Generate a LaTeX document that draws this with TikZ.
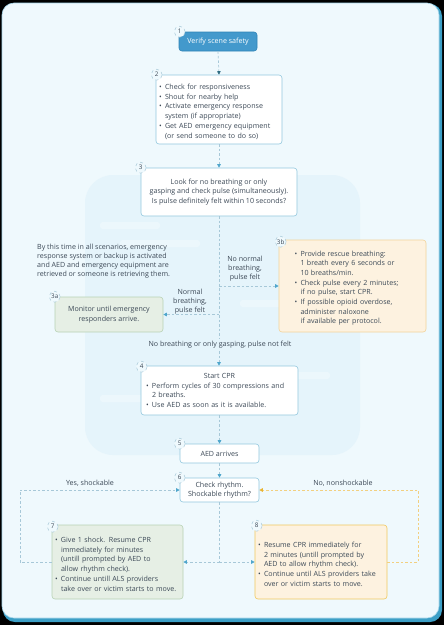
\documentclass[tikz,border=0pt]{standalone}
\usepackage{fontspec}
\setmainfont{Open Sans}
\usetikzlibrary{arrows.meta,calc}
\definecolor{pagebg}{HTML}{EFF9FD}
\definecolor{framebd}{HTML}{A6D6EA}
\definecolor{frameshadow}{HTML}{3C9FC6}
\definecolor{deco}{HTML}{E5F4FB}
\definecolor{nodebd}{HTML}{93C8DE}
\definecolor{bluefill}{HTML}{4399CC}
\definecolor{bluebd}{HTML}{2F84B6}
\definecolor{greenfill}{HTML}{E6EFE5}
\definecolor{greenbd}{HTML}{B8D2B4}
\definecolor{orangefill}{HTML}{FDF2E0}
\definecolor{orangebd}{HTML}{F2D39A}
\definecolor{yellowbd}{HTML}{F1C85E}
\definecolor{txt}{HTML}{3B4856}
\definecolor{lin}{HTML}{A7C8D8}
\definecolor{tip}{HTML}{4FA6CC}
\definecolor{tipdark}{HTML}{2E6C82}
\definecolor{olin}{HTML}{F2D080}
\definecolor{otip}{HTML}{E9B431}
\newcommand{\bit}[1]{\par\hangindent=6pt\hangafter=1\noindent\makebox[6pt][l]{\textbullet}#1}
\tikzset{
  box/.style={draw=nodebd, line width=0.6pt, fill=white, rounded corners=3pt, inner sep=0pt,
    font=\fontsize{7.1}{9.7}\selectfont, text=txt, align=center},
  greenbox/.style={box, draw=greenbd, fill=greenfill},
  orangebox/.style={box, draw=orangebd, fill=orangefill},
  badge/.style={circle, draw=lin, dashed, line width=0.5pt, fill=pagebg, minimum size=11pt, inner sep=0pt,
    font=\fontsize{6.3}{7}\selectfont, text=txt},
  conn/.style={draw=lin, dashed, dash pattern=on 2.5pt off 2pt, line width=0.7pt},
  arr/.style={conn, -{Triangle[length=3.5pt,width=3.5pt,color=tip,fill=tip]}},
  darr/.style={conn, -{Triangle[length=3.5pt,width=3.5pt,color=tipdark,fill=tipdark]}},
  oarr/.style={conn, draw=olin, -{Triangle[length=3.5pt,width=3.5pt,color=otip,fill=otip]}},
  lbl/.style={font=\fontsize{7.1}{9}\selectfont, text=txt, align=center, inner sep=1pt}
}
\begin{document}
\begin{tikzpicture}[x=1pt,y=-1pt]
\useasboundingbox (0,0) rectangle (444,625);
\fill[black] (0,0) rectangle (444,625);
\fill[frameshadow, rounded corners=12pt] (3,4) rectangle (442,622);
\filldraw[fill=pagebg, draw=framebd, line width=0.6pt, rounded corners=12pt] (2,3) rectangle (439,618);
% decorative background
\fill[deco, rounded corners=28pt] (85,175) rectangle (360,455);
\foreach \y/\a/\b in {222/100/160, 240/120/200, 262/280/340, 300/240/300, 320/285/345, 372/250/330, 395/100/150}
  \fill[white, opacity=0.3, rounded corners=3pt] (\a,\y) rectangle (\b,\y+7);

% nodes
\node[box, fill=bluefill, draw=bluebd, text=white, minimum width=78pt, minimum height=19pt] (n1) at (218,41.5) {Verify scene safety};
\node[box, minimum width=126pt, minimum height=69pt, text width=120pt, align=left] (n2) at (219,109.5) {%
\bit{Check for responsiveness}
\bit{Shout for nearby help}
\bit{Activate emergency response\newline system (if appropriate)}
\bit{Get AED emergency equipment\newline (or send someone to do so)}\par};
\node[box, minimum width=156pt, minimum height=48pt] (n3) at (219,192) {Look for no breathing or only\\gasping and check pulse (simultaneously).\\Is pulse definitely felt within 10 seconds?};
\node[orangebox, minimum width=147pt, minimum height=92pt, text width=116pt, align=left] (n3b) at (352.5,286) {%
\bit{Provide rescue breathing:\newline 1 breath every 6 seconds or\newline 10 breaths/min.}
\bit{Check pulse every 2 minutes;\newline if no pulse, start CPR.}
\bit{If possible opioid overdose,\newline administer naloxone\newline if available per protocol.}\par};
\node[greenbox, minimum width=108pt, minimum height=35pt] (n3a) at (109,314.5) {Monitor until emergency\\responders arrive.};
\node[box, minimum width=157pt, minimum height=49pt, text width=147pt, align=left] (n4) at (219.5,390.5) {%
\centerline{Start CPR}
\bit{Perform cycles of 30 compressions and\newline 2 breaths.}
\bit{Use AED as soon as it is available.}\par};
\node[box, minimum width=79pt, minimum height=19pt] (n5) at (219.5,453.5) {AED arrives};
\node[box, minimum width=79pt, minimum height=24pt, font=\fontsize{7.1}{9}\selectfont] (n6) at (219.5,490) {Check rhythm.\\Shockable rhythm?};
\node[greenbox, minimum width=131pt, minimum height=74pt, text width=125pt, align=left] (n7) at (117.5,562) {%
\bit{Give 1 shock. Resume CPR\newline immediately for  minutes\newline (untill prompted by AED to\newline allow rhythm check).}
\bit{Continue untill ALS providers\newline take over or victim starts to move.}\par};
\node[orangebox, draw=yellowbd, minimum width=132pt, minimum height=74pt, text width=126pt, align=left] (n8) at (321,562) {%
\bit{Resume CPR immediately for\newline 2 minutes (untill prompted by\newline AED to allow rhythm check).}
\bit{Continue until ALS providers take\newline over or victim starts to move.}\par};

% free text
\node[lbl, align=left, anchor=north west] (note) at (36,243) {By this time in all scenarios, emergency\\response system or backup is activated\\and AED and emergency equipment are\\retrieved or someone is retrieving them.};

% connectors
\draw[darr] (n1.south) -- (n2.north);
\draw[arr] (n2.south) -- (n3.north);
\coordinate (c3b) at (n3.south |- n3b.west);
\coordinate (c3a) at (n3.south |- n3a.east);
\draw[arr] (n3.south) -- (n3.south |- n4.north);
\draw[arr] (c3b) -- (n3b.west);
\draw[arr] (c3a) -- (n3a.east);
\node[lbl, fill=deco, inner sep=2pt] (lno) at (220,345) {No breathing or only gasping, pulse not felt};
\node[lbl] (lb) at (245,269) {No normal\\breathing,\\pulse felt};
\node[lbl] (la) at (190,302) {Normal\\breathing,\\pulse felt};
\draw[arr] (n4.south) -- (n5.north);
\draw[arr] (n5.south) -- (n6.north);
\coordinate (split) at (n6.south |- n7.east);
\draw[conn] (n6.south) -- (split);
\draw[arr] (split) -- (n7.east);
\draw[arr] (split) -- (n8.west);
\coordinate (l1) at (20,562);
\coordinate (l2) at (20,490);
\draw[arr] (n7.west) -- (l1) -- (l2) -- (n6.west);
\coordinate (r1) at (418,562);
\coordinate (r2) at (418,490);
\draw[oarr] (n8.east) -- (r1) -- (r2) -- (n6.east);
\node[lbl] (lyes) at (90,483) {Yes, shockable};
\node[lbl] (lnon) at (343,483) {No, nonshockable};

% badges
\node[badge] (b1) at ($(n1.north west)+(1,0)$) {1};
\node[badge] (b2) at ($(n2.north west)+(1,0)$) {2};
\node[badge] (b3) at ($(n3.north west)+(0,0)$) {3};
\node[badge] (b3b) at ($(n3b.north west)+(2,2)$) {3b};
\node[badge] (b3a) at ($(n3a.north west)+(0,0)$) {3a};
\node[badge] (b4) at ($(n4.north west)+(1,1)$) {4};
\node[badge] (b5) at ($(n5.north west)+(0,0)$) {5};
\node[badge] (b6) at ($(n6.north west)+(0,0)$) {6};
\node[badge] (b7) at ($(n7.north west)+(1,2)$) {7};
\node[badge] (b8) at ($(n8.north west)+(2,1)$) {8};
\end{tikzpicture}
\end{document}
